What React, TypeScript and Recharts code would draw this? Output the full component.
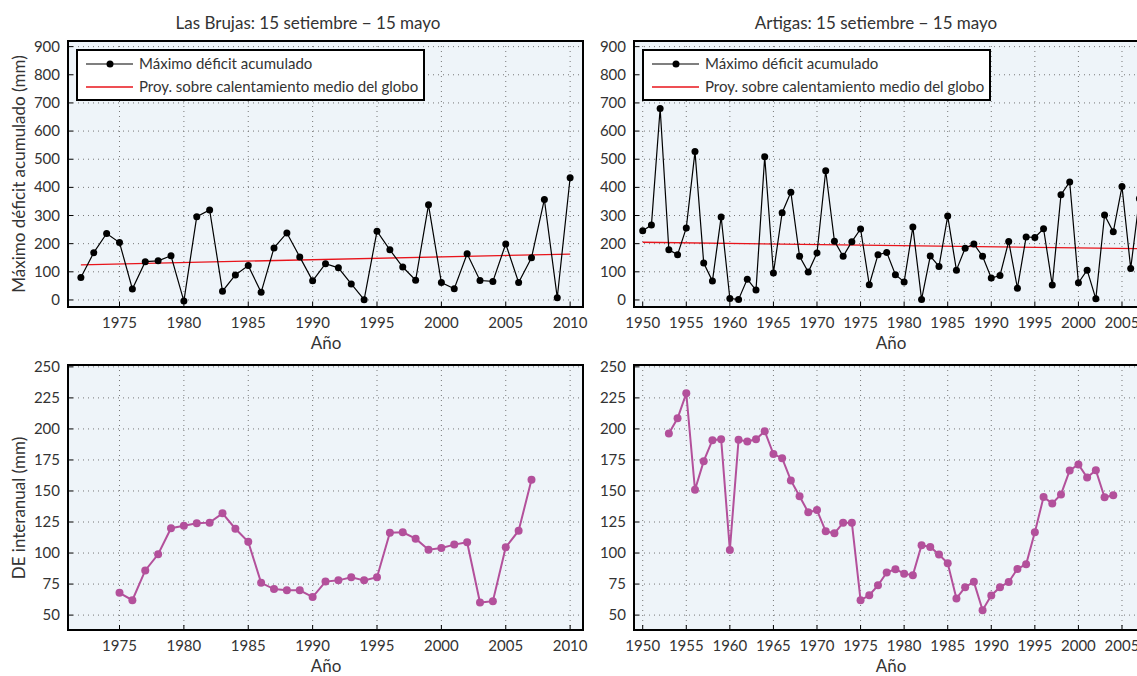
import React from 'react';
import {
  LineChart,
  Line,
  XAxis,
  YAxis,
  CartesianGrid,
  ReferenceArea,
} from 'recharts';

// Las Brujas, max accumulated deficit (mm), 1972-2010
const LAS_BRUJAS_START = 1972;
const lasBrujasDeficit = [
  80, 168, 236, 204, 39, 136, 139, 157, -4, 296, 320, 31, 89, 122, 27, 185, 238,
  153, 68, 129, 114, 57, 1, 244, 178, 117, 70, 338, 62, 40, 164, 69, 66, 199, 62,
  150, 357, 8, 434,
];
const lasBrujasTrend = [
  { year: 1972, v: 125 },
  { year: 2010, v: 163 },
];

// Artigas, max accumulated deficit (mm), 1950-2007
const ARTIGAS_START = 1950;
const artigasDeficit = [
  246, 266, 680, 178, 161, 256, 527, 131, 67, 295, 5, 2, 74, 35, 509, 96, 310,
  383, 155, 99, 167, 459, 209, 155, 207, 252, 54, 161, 169, 90, 64, 259, 2, 156,
  119, 298, 106, 184, 199, 155, 78, 87, 208, 42, 224, 222, 253, 53, 374, 419, 61,
  106, 4, 302, 242, 403, 112, 360,
];
const artigasTrend = [
  { year: 1950, v: 205 },
  { year: 2008, v: 182 },
];

// interannual SD (mm)
const LAS_BRUJAS_DE_START = 1975;
const lasBrujasDE = [
  68, 62, 86, 99, 120, 122, 124, 124.5, 132, 119.6, 109, 76, 71, 70, 70, 64.5, 77,
  78, 80.5, 78, 80.5, 116.4, 116.7, 111.6, 102.7, 104.1, 106.8, 108.7, 60.1, 61.2,
  104.7, 118, 159,
];
const ARTIGAS_DE_START = 1953;
const artigasDE = [
  196.3, 208.6, 228.7, 151, 174, 190.9, 191.7, 102.5, 191.2, 189.9, 191.7, 198.2,
  179.7, 176.4, 158.5, 145.7, 132.8, 134.6, 117.5, 115.9, 124.5, 124.5, 62, 66, 74,
  84.3, 87, 83.4, 82.2, 106.3, 104.9, 98.8, 91.8, 63.4, 72.5, 76.8, 54, 65.8, 72.5,
  76.6, 87.2, 91, 116.7, 145.1, 140, 147.2, 166.5, 171.4, 160.9, 166.8, 144.9,
  146.5,
];

const leftYears = [1975, 1980, 1985, 1990, 1995, 2000, 2005, 2010];
const rightYears = [1950, 1955, 1960, 1965, 1970, 1975, 1980, 1985, 1990, 1995, 2000, 2005];
const deficitTicks = [0, 100, 200, 300, 400, 500, 600, 700, 800, 900];
const deTicks = [50, 75, 100, 125, 150, 175, 200, 225, 250];

const toRows = (start: number, values: number[]) =>
  values.map((v, i) => ({ year: start + i, v }));

const FONT = "'Lato', 'DejaVu Sans', sans-serif";
const PURPLE = '#b3509b';
const RED = '#e8141b';

const BottomTick = (p: any) => (
  <g>
    <line x1={p.x} x2={p.x} y1={p.y} y2={p.y - 5} stroke="#000" />
    <text x={p.x} y={p.y + 21} textAnchor="middle" fontSize={15} fill="#333" fontFamily={FONT}>
      {p.payload.value}
    </text>
  </g>
);
const TopTick = (p: any) => (
  <line x1={p.x} x2={p.x} y1={p.y} y2={p.y + 5} stroke="#000" />
);
const LeftTick = (p: any) => (
  <g>
    <line x1={p.x} x2={p.x + 5} y1={p.y} y2={p.y} stroke="#000" />
    <text x={p.x - 8} y={p.y + 5} textAnchor="end" fontSize={15} fill="#333" fontFamily={FONT}>
      {p.payload.value}
    </text>
  </g>
);
const RightTick = (p: any) => (
  <line x1={p.x} x2={p.x - 5} y1={p.y} y2={p.y} stroke="#000" />
);

interface PanelProps {
  left: number; // plot area, page coords
  top: number;
  width: number;
  height: number;
  xDomain: [number, number];
  yDomain: [number, number];
  xTicks: number[];
  yTicks: number[];
  children: React.ReactNode;
}

const Panel: React.FC<PanelProps> = ({
  left, top, width, height, xDomain, yDomain, xTicks, yTicks, children,
}) => (
  <div style={{ position: 'absolute', left: left - 60, top: top - 10 }}>
    <LineChart
      width={width + 70}
      height={height + 50}
      margin={{ top: 10, right: 10, bottom: 0, left: 0 }}
    >
      <CartesianGrid stroke="#777" strokeDasharray="1 4" fill="#eef4f9" />
      <XAxis
        type="number"
        dataKey="year"
        domain={xDomain}
        ticks={xTicks}
        interval={0}
        allowDataOverflow
        height={40}
        tickSize={0}
        tickMargin={0}
        axisLine={false}
        tickLine={false}
        tick={<BottomTick />}
      />
      <XAxis
        xAxisId="top"
        orientation="top"
        type="number"
        dataKey="year"
        domain={xDomain}
        ticks={xTicks}
        interval={0}
        allowDataOverflow
        height={0}
        tickSize={0}
        tickMargin={0}
        axisLine={false}
        tickLine={false}
        tick={<TopTick />}
      />
      <YAxis
        type="number"
        domain={yDomain}
        ticks={yTicks}
        interval={0}
        allowDataOverflow
        width={60}
        tickSize={0}
        tickMargin={0}
        axisLine={false}
        tickLine={false}
        tick={<LeftTick />}
      />
      <YAxis
        yAxisId="right"
        orientation="right"
        type="number"
        domain={yDomain}
        ticks={yTicks}
        interval={0}
        allowDataOverflow
        width={0}
        tickSize={0}
        tickMargin={0}
        axisLine={false}
        tickLine={false}
        tick={<RightTick />}
      />
      {children}
      <ReferenceArea
        x1={xDomain[0]}
        x2={xDomain[1]}
        y1={yDomain[0]}
        y2={yDomain[1]}
        fill="none"
        stroke="#000"
        strokeWidth={2}
        ifOverflow="visible"
      />
    </LineChart>
  </div>
);

const deficitLine = (rows: { year: number; v: number }[]) => (
  <Line
    data={rows}
    dataKey="v"
    type="linear"
    stroke="#000"
    strokeWidth={1.2}
    dot={{ r: 3.5, fill: '#000', stroke: '#000', strokeWidth: 0 }}
    isAnimationActive={false}
  />
);
const trendLine = (rows: { year: number; v: number }[]) => (
  <Line
    data={rows}
    dataKey="v"
    type="linear"
    stroke={RED}
    strokeWidth={1.3}
    dot={false}
    isAnimationActive={false}
  />
);
const deLine = (rows: { year: number; v: number }[]) => (
  <Line
    data={rows}
    dataKey="v"
    type="linear"
    stroke={PURPLE}
    strokeWidth={2}
    dot={{ r: 4, fill: PURPLE, stroke: PURPLE, strokeWidth: 0 }}
    isAnimationActive={false}
  />
);

const Legend: React.FC<{ left: number }> = ({ left }) => (
  <svg
    width={350}
    height={53}
    style={{ position: 'absolute', left, top: 49 }}
  >
    <rect x={1} y={1} width={347} height={50} fill="#fff" stroke="#000" strokeWidth={2} />
    <line x1={10} x2={57} y1={15} y2={15} stroke="#000" strokeWidth={1.2} />
    <circle cx={34} cy={15} r={3.5} fill="#000" />
    <text x={63} y={20} fontSize={15} fill="#333" fontFamily={FONT}>
      Máximo déficit acumulado
    </text>
    <line x1={10} x2={57} y1={38} y2={38} stroke={RED} strokeWidth={1.3} />
    <text x={63} y={43} fontSize={15} fill="#333" fontFamily={FONT}>
      Proy. sobre calentamiento medio del globo
    </text>
  </svg>
);

const Label: React.FC<{ x: number; y: number; rotate?: boolean; size?: number; children: React.ReactNode }> = ({
  x, y, rotate, size = 17, children,
}) => (
  <div
    style={{
      position: 'absolute',
      left: x,
      top: y,
      transform: `translate(-50%, -50%)${rotate ? ' rotate(-90deg)' : ''}`,
      whiteSpace: 'nowrap',
      fontFamily: FONT,
      fontSize: size,
      color: '#333',
      lineHeight: 1,
    }}
  >
    {children}
  </div>
);

export default function App() {
  // fixed full-window frame: the right panel runs past the window edge and is clipped
  return (
    <div style={{ position: 'fixed', left: 0, top: 0, width: 1137, height: 676, overflow: 'hidden', background: '#fff' }}>
      <Panel left={68} top={41} width={515} height={266} xDomain={[1971, 2011]} yDomain={[-25, 920]} xTicks={leftYears} yTicks={deficitTicks}>
        {trendLine(lasBrujasTrend)}
        {deficitLine(toRows(LAS_BRUJAS_START, lasBrujasDeficit))}
      </Panel>
      <Panel left={634} top={41} width={515} height={266} xDomain={[1949, 2008.1]} yDomain={[-25, 920]} xTicks={rightYears} yTicks={deficitTicks}>
        {trendLine(artigasTrend)}
        {deficitLine(toRows(ARTIGAS_START, artigasDeficit))}
      </Panel>
      <Panel left={68} top={365} width={515} height={265} xDomain={[1971, 2011]} yDomain={[38, 251.5]} xTicks={leftYears} yTicks={deTicks}>
        {deLine(toRows(LAS_BRUJAS_DE_START, lasBrujasDE))}
      </Panel>
      <Panel left={634} top={365} width={515} height={265} xDomain={[1949, 2008.1]} yDomain={[38, 251.5]} xTicks={rightYears} yTicks={deTicks}>
        {deLine(toRows(ARTIGAS_DE_START, artigasDE))}
      </Panel>

      <Legend left={76} />
      <Legend left={642} />

      <Label x={308} y={22}>Las Brujas: 15 setiembre − 15 mayo</Label>
      <Label x={876} y={22}>Artigas: 15 setiembre − 15 mayo</Label>
      <Label x={326} y={342}>Año</Label>
      <Label x={891} y={342}>Año</Label>
      <Label x={326} y={665}>Año</Label>
      <Label x={891} y={665}>Año</Label>
      <Label x={18} y={174} rotate>Máximo déficit acumulado (mm)</Label>
      <Label x={18} y={508} rotate>DE interanual (mm)</Label>
    </div>
  );
}
